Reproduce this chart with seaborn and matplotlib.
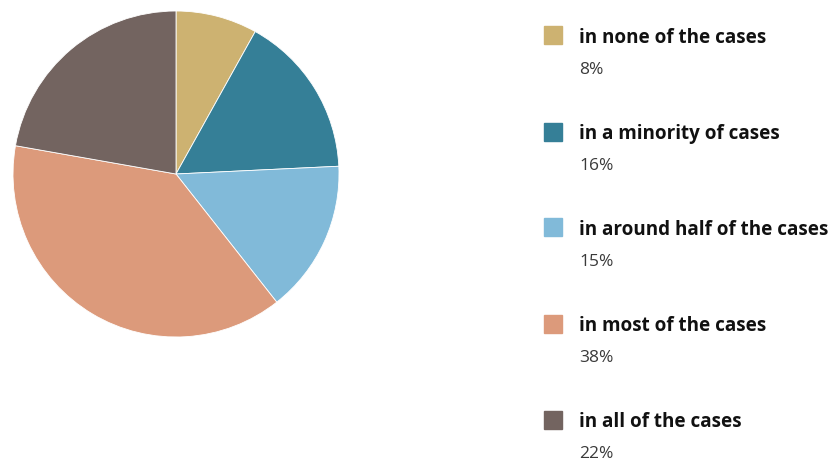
import matplotlib
matplotlib.use("Agg")
import matplotlib.pyplot as plt
import seaborn as sns
from matplotlib.patches import Rectangle

categories = [
    "in none of the cases",
    "in a minority of cases",
    "in around half of the cases",
    "in most of the cases",
    "in all of the cases",
]
shares = [8, 16, 15, 38, 22]
pct_labels = ["8%", "16%", "15%", "38%", "22%"]
colors = ["#CDB271", "#357F97", "#81BAD9", "#DC9A7B", "#736460"]

sns.set_theme(style="white")
plt.rcParams["font.family"] = ["Open Sans", "DejaVu Sans"]

W, H = 832, 461
fig = plt.figure(figsize=(W / 100, H / 100), dpi=100)
fig.patch.set_facecolor("white")

# pie axes: centre (176, 174) px, radius 163 px
cx, cy, r = 176, 174, 163
ax = fig.add_axes([(cx - r) / W, (H - cy - r) / H, 2 * r / W, 2 * r / H])
palette = sns.color_palette(colors)
ax.pie(shares, colors=palette, startangle=90, counterclock=False,
       wedgeprops=dict(linewidth=0.6, edgecolor="white"))
ax.set_xlim(-1, 1)
ax.set_ylim(-1, 1)
ax.set_aspect("equal")
ax.axis("off")

# legend drawn as figure text
y0, dy = 35.5, 96.0
for i, (cat, pct, col) in enumerate(zip(categories, pct_labels, palette)):
    yc = y0 + i * dy
    fig.patches.append(Rectangle((544 / W, (H - yc - 9) / H), 18 / W, 18 / H,
                                 transform=fig.transFigure, color=col))
    fig.text(579 / W, (H - yc - 7.5) / H, cat, fontsize=13.6, fontweight="bold",
             color="#111111", va="baseline", ha="left")
    fig.text(579 / W, (H - yc - 38.5) / H, pct, fontsize=12.5, fontweight="normal",
             color="#3a3a3a", va="baseline", ha="left")

fig.savefig("out.png", dpi=100, facecolor="white")
